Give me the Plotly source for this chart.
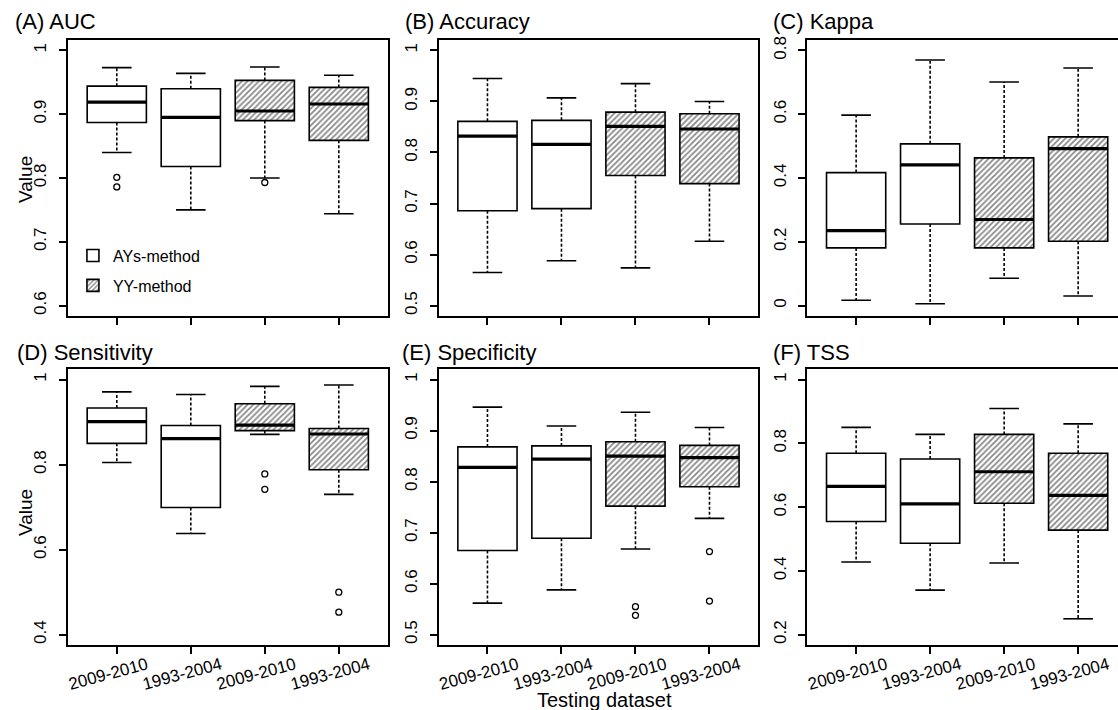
import plotly.graph_objects as go

# ---------------- data ----------------
categories = ["2009-2010", "1993-2004", "2009-2010", "1993-2004"]
methods = ["AYs-method", "AYs-method", "YY-method", "YY-method"]

panel_titles = ["(A) AUC", "(B) Accuracy", "(C) Kappa",
                "(D) Sensitivity", "(E) Specificity", "(F) TSS"]

auc_lower = [0.840, 0.750, 0.800, 0.744]
auc_q1 = [0.887, 0.818, 0.890, 0.859]
auc_med = [0.919, 0.895, 0.905, 0.916]
auc_q3 = [0.944, 0.940, 0.953, 0.942]
auc_upper = [0.973, 0.964, 0.974, 0.961]
auc_out = [[0.801, 0.786], [], [0.793], []]

acc_lower = [0.565, 0.588, 0.574, 0.626]
acc_q1 = [0.686, 0.690, 0.755, 0.739]
acc_med = [0.832, 0.816, 0.851, 0.846]
acc_q3 = [0.861, 0.863, 0.879, 0.876]
acc_upper = [0.945, 0.907, 0.935, 0.900]
acc_out = [[], [], [], []]

kap_lower = [0.017, 0.006, 0.086, 0.030]
kap_q1 = [0.181, 0.256, 0.181, 0.202]
kap_med = [0.235, 0.441, 0.270, 0.492]
kap_q3 = [0.417, 0.507, 0.463, 0.529]
kap_upper = [0.597, 0.770, 0.701, 0.745]
kap_out = [[], [], [], []]

sen_lower = [0.805, 0.638, 0.871, 0.730]
sen_q1 = [0.850, 0.699, 0.880, 0.788]
sen_med = [0.901, 0.861, 0.893, 0.872]
sen_q3 = [0.933, 0.892, 0.943, 0.885]
sen_upper = [0.971, 0.965, 0.984, 0.987]
sen_out = [[], [], [0.778, 0.742], [0.500, 0.453]]

spe_lower = [0.562, 0.588, 0.668, 0.728]
spe_q1 = [0.665, 0.689, 0.752, 0.790]
spe_med = [0.828, 0.844, 0.850, 0.847]
spe_q3 = [0.868, 0.870, 0.878, 0.871]
spe_upper = [0.946, 0.909, 0.936, 0.906]
spe_out = [[], [], [0.555, 0.538], [0.663, 0.566]]

tss_lower = [0.428, 0.340, 0.425, 0.250]
tss_q1 = [0.555, 0.487, 0.612, 0.528]
tss_med = [0.665, 0.610, 0.711, 0.637]
tss_q3 = [0.769, 0.751, 0.828, 0.769]
tss_upper = [0.850, 0.828, 0.909, 0.861]
tss_out = [[], [], [], []]

y_ticks = [
    [0.6, 0.7, 0.8, 0.9, 1.0],
    [0.5, 0.6, 0.7, 0.8, 0.9, 1.0],
    [0.0, 0.2, 0.4, 0.6, 0.8],
    [0.4, 0.6, 0.8, 1.0],
    [0.5, 0.6, 0.7, 0.8, 0.9, 1.0],
    [0.2, 0.4, 0.6, 0.8, 1.0],
]
y_ticktext = [
    ["0.6", "0.7", "0.8", "0.9", "1"],
    ["0.5", "0.6", "0.7", "0.8", "0.9", "1"],
    ["0", "0.2", "0.4", "0.6", "0.8"],
    ["0.4", "0.6", "0.8", "1"],
    ["0.5", "0.6", "0.7", "0.8", "0.9", "1"],
    ["0.2", "0.4", "0.6", "0.8", "1"],
]
y_lims = [(0.6, 1.0), (0.5, 1.0), (0.0, 0.8), (0.4, 1.0), (0.5, 1.0), (0.2, 1.0)]

panels = [
    (auc_lower, auc_q1, auc_med, auc_q3, auc_upper, auc_out),
    (acc_lower, acc_q1, acc_med, acc_q3, acc_upper, acc_out),
    (kap_lower, kap_q1, kap_med, kap_q3, kap_upper, kap_out),
    (sen_lower, sen_q1, sen_med, sen_q3, sen_upper, sen_out),
    (spe_lower, spe_q1, spe_med, spe_q3, spe_upper, spe_out),
    (tss_lower, tss_q1, tss_med, tss_q3, tss_upper, tss_out),
]

# ---------------- layout geometry ----------------
W, H = 1118, 710
FONT = "Liberation Sans, Arial, Helvetica, sans-serif"
col_left_px = [67, 438, 807]
panel_w_px = 320
row_top_px = [36.4, 367.4]
row_bot_px = [313.6, 644.6]
box_w = 0.8
cap_half = 0.2
xpos = [1, 2, 3, 4]
xlim = (0.5 - 0.04 * 4, 4.5 + 0.04 * 4)
units_per_px = (xlim[1] - xlim[0]) / panel_w_px

fig = go.Figure()

for k, (lo, q1, med, q3, up, outs) in enumerate(panels):
    r, c = divmod(k, 3)
    ax = "" if k == 0 else str(k + 1)
    xref, yref = "x" + ax, "y" + ax

    # box bodies (bars from q1 to q3)
    for mname, idx, hatched in [("AYs-method", [0, 1], False), ("YY-method", [2, 3], True)]:
        pattern = dict(shape="/", fillmode="overlay", fgcolor="#111111",
                       size=4, solidity=0.45) if hatched else dict(shape="")
        fig.add_trace(go.Bar(
            x=[xpos[i] for i in idx],
            base=[q1[i] for i in idx],
            y=[q3[i] - q1[i] for i in idx],
            width=box_w,
            marker=dict(color="white", line=dict(color="black", width=1.6),
                        pattern=pattern),
            name=mname, legendgroup=mname, showlegend=(k == 0),
            xaxis=xref, yaxis=yref, hoverinfo="skip",
        ))

    # dashed whiskers
    wx, wy = [], []
    for i in range(4):
        wx += [xpos[i], xpos[i], None, xpos[i], xpos[i], None]
        wy += [q3[i], up[i], None, q1[i], lo[i], None]
    fig.add_trace(go.Scatter(x=wx, y=wy, mode="lines",
                             line=dict(color="black", width=1.6, dash="3px,2px"),
                             showlegend=False, xaxis=xref, yaxis=yref, hoverinfo="skip"))
    # caps
    cx, cy = [], []
    for i in range(4):
        cx += [xpos[i] - cap_half, xpos[i] + cap_half, None,
               xpos[i] - cap_half, xpos[i] + cap_half, None]
        cy += [up[i], up[i], None, lo[i], lo[i], None]
    fig.add_trace(go.Scatter(x=cx, y=cy, mode="lines",
                             line=dict(color="black", width=1.6),
                             showlegend=False, xaxis=xref, yaxis=yref, hoverinfo="skip"))
    # medians
    mx, my = [], []
    for i in range(4):
        mx += [xpos[i] - box_w / 2, xpos[i] + box_w / 2, None]
        my += [med[i], med[i], None]
    fig.add_trace(go.Scatter(x=mx, y=my, mode="lines",
                             line=dict(color="black", width=3.2),
                             showlegend=False, xaxis=xref, yaxis=yref, hoverinfo="skip"))
    # outliers
    ox, oy = [], []
    for i in range(4):
        for v in outs[i]:
            ox.append(xpos[i])
            oy.append(v)
    if ox:
        fig.add_trace(go.Scatter(x=ox, y=oy, mode="markers",
                                 marker=dict(symbol="circle-open", size=6,
                                             color="black", line=dict(width=1.3)),
                                 showlegend=False, xaxis=xref, yaxis=yref, hoverinfo="skip"))

    # axes
    left = col_left_px[c]
    right = min(left + panel_w_px, W)
    xr = (xlim[0], xlim[0] + (right - left) * units_per_px)
    ylo, yhi = y_lims[k]
    ext = 0.04 * (yhi - ylo)
    clipped = (left + panel_w_px) > W
    xa = dict(domain=[left / W, right / W], range=list(xr),
              tickvals=xpos, ticktext=(categories if r == 1 else [""] * 4),
              tickangle=-15, ticks="outside", ticklen=7, tickwidth=1.5,
              tickcolor="black", showline=True, linecolor="black", linewidth=1.6,
              mirror=True, showgrid=False, zeroline=False, fixedrange=True,
              tickfont=dict(family=FONT, size=17, color="black"),
              ticklabelshift=30, ticklabelstandoff=-5,
              anchor=yref)
    ya = dict(domain=[1 - row_bot_px[r] / H, 1 - row_top_px[r] / H],
              range=[ylo - ext, yhi + ext], tickvals=y_ticks[k], ticktext=y_ticktext[k],
              tickangle=-90, ticks="outside", ticklen=7, tickwidth=1.5,
              tickcolor="black", showline=True, linecolor="black", linewidth=1.6,
              mirror=(not clipped), showgrid=False, zeroline=False, fixedrange=True,
              tickfont=dict(family=FONT, size=17, color="black"),
              ticklabelstandoff=6, anchor=xref)
    fig.layout["xaxis" + ax] = xa
    fig.layout["yaxis" + ax] = ya

annotations = []
title_pos = [(12, 18), (402, 18), (771, 18), (14, 350), (399, 350), (771, 350)]
for k, t in enumerate(panel_titles):
    x, y = title_pos[k]
    annotations.append(dict(text=t, x=x / W, y=1 - y / H, xref="paper", yref="paper",
                            xanchor="left", yanchor="middle", showarrow=False,
                            font=dict(family=FONT, size=22, color="black")))
for ycen in [176, 511]:
    annotations.append(dict(text="Value", x=24 / W, y=1 - ycen / H, xref="paper",
                            yref="paper", textangle=-90, xanchor="center",
                            yanchor="middle", showarrow=False,
                            font=dict(family=FONT, size=19, color="black")))
annotations.append(dict(text="Testing dataset", x=604 / W, y=1 - 700 / H, xref="paper",
                        yref="paper", xanchor="center", yanchor="middle",
                        showarrow=False, font=dict(family=FONT, size=20, color="black")))

fig.update_layout(
    width=W, height=H, margin=dict(l=0, r=0, t=0, b=0),
    paper_bgcolor="white", plot_bgcolor="white",
    barmode="overlay", annotations=annotations,
    legend=dict(x=72 / W, y=1 - 236 / H, xanchor="left", yanchor="top",
                bgcolor="rgba(0,0,0,0)", font=dict(family=FONT, size=16, color="black"),
                itemwidth=30, tracegroupgap=6),
    font=dict(family=FONT),
)

fig.write_html("out.html")
